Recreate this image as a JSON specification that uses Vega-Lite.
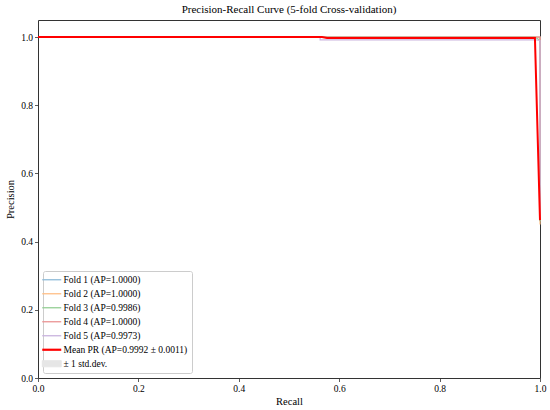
{
  "$schema": "https://vega.github.io/schema/vega-lite/v6.json",
  "autosize": "none",
  "width": 502,
  "height": 358,
  "padding": {"left": 38, "top": 20, "right": 10, "bottom": 32},
  "background": "white",
  "title": {
    "text": "Precision-Recall Curve (5-fold Cross-validation)",
    "font": "Liberation Serif, Times New Roman, DejaVu Serif, serif",
    "fontSize": 11,
    "fontWeight": "normal",
    "color": "black",
    "offset": 5
  },
  "config": {
    "font": "Liberation Serif, Times New Roman, DejaVu Serif, serif",
    "view": {"stroke": "#333333", "strokeWidth": 1},
    "axis": {
      "domain": false,
      "grid": false,
      "labelFlush": false,
      "tickColor": "#333333",
      "tickSize": 3.5,
      "tickWidth": 0.8,
      "labelFont": "Liberation Serif, Times New Roman, DejaVu Serif, serif",
      "labelFontSize": 9.5,
      "labelColor": "black",
      "labelPadding": 2,
      "titleFont": "Liberation Serif, Times New Roman, DejaVu Serif, serif",
      "titleFontSize": 10.5,
      "titleFontWeight": "normal",
      "titleColor": "black"
    }
  },
  "datasets": {
    "curves": [
      {"series": "Fold 1 (AP=1.0000)", "i": 0, "recall": 0.0, "precision": 1.0},
      {"series": "Fold 1 (AP=1.0000)", "i": 1, "recall": 1.0, "precision": 1.0},
      {"series": "Fold 1 (AP=1.0000)", "i": 2, "recall": 1.0, "precision": 0.47},
      {"series": "Fold 2 (AP=1.0000)", "i": 0, "recall": 0.0, "precision": 1.0},
      {"series": "Fold 2 (AP=1.0000)", "i": 1, "recall": 1.0, "precision": 1.0},
      {"series": "Fold 2 (AP=1.0000)", "i": 2, "recall": 1.0, "precision": 0.45},
      {"series": "Fold 3 (AP=0.9986)", "i": 0, "recall": 0.0, "precision": 1.0},
      {"series": "Fold 3 (AP=0.9986)", "i": 1, "recall": 0.99, "precision": 1.0},
      {"series": "Fold 3 (AP=0.9986)", "i": 2, "recall": 0.996, "precision": 0.994},
      {"series": "Fold 3 (AP=0.9986)", "i": 3, "recall": 1.0, "precision": 0.99},
      {"series": "Fold 3 (AP=0.9986)", "i": 4, "recall": 1.0, "precision": 0.46},
      {"series": "Fold 4 (AP=1.0000)", "i": 0, "recall": 0.0, "precision": 1.0},
      {"series": "Fold 4 (AP=1.0000)", "i": 1, "recall": 1.0, "precision": 1.0},
      {"series": "Fold 4 (AP=1.0000)", "i": 2, "recall": 1.0, "precision": 0.47},
      {"series": "Fold 5 (AP=0.9973)", "i": 0, "recall": 0.0, "precision": 1.0},
      {"series": "Fold 5 (AP=0.9973)", "i": 1, "recall": 0.562, "precision": 1.0},
      {"series": "Fold 5 (AP=0.9973)", "i": 2, "recall": 0.562, "precision": 0.992},
      {"series": "Fold 5 (AP=0.9973)", "i": 3, "recall": 0.99, "precision": 0.992},
      {"series": "Fold 5 (AP=0.9973)", "i": 4, "recall": 1.0, "precision": 0.99},
      {"series": "Fold 5 (AP=0.9973)", "i": 5, "recall": 1.0, "precision": 0.465},
      {"series": "Mean PR (AP=0.9992 ± 0.0011)", "i": 0, "recall": 0.0, "precision": 1.0},
      {"series": "Mean PR (AP=0.9992 ± 0.0011)", "i": 1, "recall": 0.5657, "precision": 1.0},
      {"series": "Mean PR (AP=0.9992 ± 0.0011)", "i": 2, "recall": 0.5758, "precision": 0.997},
      {"series": "Mean PR (AP=0.9992 ± 0.0011)", "i": 3, "recall": 0.9899, "precision": 0.997},
      {"series": "Mean PR (AP=0.9992 ± 0.0011)", "i": 4, "recall": 1.0, "precision": 0.463}
    ],
    "band": [
      {"series": "± 1 std.dev.", "recall": 0.0, "lower": 1.0, "upper": 1.0},
      {"series": "± 1 std.dev.", "recall": 0.5657, "lower": 1.0, "upper": 1.0},
      {"series": "± 1 std.dev.", "recall": 0.5758, "lower": 0.994, "upper": 1.0},
      {"series": "± 1 std.dev.", "recall": 0.9899, "lower": 0.994, "upper": 1.0},
      {"series": "± 1 std.dev.", "recall": 1.0, "lower": 0.455, "upper": 0.471}
    ]
  },
  "encoding": {
    "x": {
      "field": "recall",
      "type": "quantitative",
      "title": "Recall",
      "scale": {"domain": [0, 1], "nice": false, "zero": false},
      "axis": {"values": [0, 0.2, 0.4, 0.6, 0.8, 1.0], "format": ".1f", "titlePadding": 3}
    },
    "color": {
      "field": "series",
      "type": "nominal",
      "scale": {
        "domain": [
          "Fold 1 (AP=1.0000)",
          "Fold 2 (AP=1.0000)",
          "Fold 3 (AP=0.9986)",
          "Fold 4 (AP=1.0000)",
          "Fold 5 (AP=0.9973)",
          "Mean PR (AP=0.9992 ± 0.0011)",
          "± 1 std.dev."
        ],
        "range": ["#8fbbd9", "#ffbf86", "#95cf95", "#ea9393", "#c9b3de", "#ff0000", "#e6e6e6"]
      },
      "legend": {
        "title": null,
        "orient": "bottom-left",
        "offset": 5,
        "padding": 4,
        "fillColor": "white",
        "strokeColor": "#cccccc",
        "cornerRadius": 2,
        "labelFont": "Liberation Serif, Times New Roman, DejaVu Serif, serif",
        "labelFontSize": 9.5,
        "labelColor": "black",
        "labelOffset": 7,
        "labelLimit": 300,
        "rowPadding": 3,
        "symbolSize": 361,
        "symbolType": "stroke",
        "encode": {
          "symbols": {
            "update": {
              "shape": {"signal": "datum.value === '± 1 std.dev.' ? 'M-1,-0.33H1V0.33H-1Z' : 'stroke'"},
              "stroke": {"signal": "datum.value === '± 1 std.dev.' ? '#c4c4c4' : scale('color', datum.value)"},
              "fill": {"signal": "datum.value === '± 1 std.dev.' ? '#e6e6e6' : 'transparent'"},
              "strokeWidth": {"signal": "datum.value === 'Mean PR (AP=0.9992 ± 0.0011)' ? 2.2 : (datum.value === '± 1 std.dev.' ? 0.8 : 1.3)"},
              "opacity": {"value": 1}
            }
          }
        }
      }
    }
  },
  "layer": [
    {
      "data": {"name": "band"},
      "mark": {"type": "area", "opacity": 1},
      "encoding": {
        "y": {
          "field": "lower",
          "type": "quantitative",
          "title": "Precision",
          "scale": {"domain": [0, 1.05], "nice": false, "zero": false},
          "axis": {"values": [0, 0.2, 0.4, 0.6, 0.8, 1.0], "format": ".1f", "titlePadding": 5}
        },
        "y2": {"field": "upper"}
      }
    },
    {
      "data": {"name": "curves"},
      "transform": [{"filter": "indexof(datum.series, 'Fold') === 0"}],
      "mark": {"type": "line", "strokeWidth": 1.2},
      "encoding": {
        "y": {"field": "precision", "type": "quantitative"},
        "order": {"field": "i", "type": "quantitative"}
      }
    },
    {
      "data": {"name": "curves"},
      "transform": [{"filter": "indexof(datum.series, 'Mean') === 0"}],
      "mark": {"type": "line", "strokeWidth": 2},
      "encoding": {
        "y": {"field": "precision", "type": "quantitative"},
        "order": {"field": "i", "type": "quantitative"}
      }
    }
  ]
}
